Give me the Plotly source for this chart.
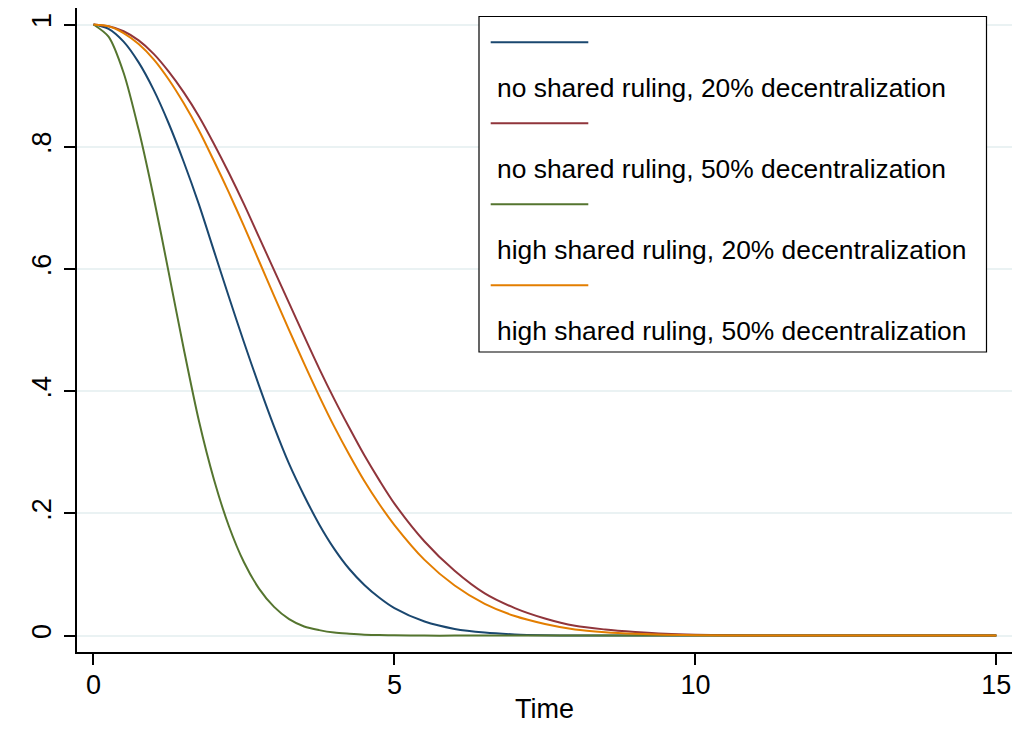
import plotly.graph_objects as go

# ---- data ----
time = [0, 0.25, 0.5, 0.75, 1, 1.25, 1.5, 1.75, 2, 2.25, 2.5, 2.75, 3, 3.25, 3.5, 3.75,
        4, 4.25, 4.5, 4.75, 5, 5.5, 6, 6.5, 7, 7.5, 8, 8.5, 9, 9.5, 10, 11, 12, 13, 14, 15]

no_shared_20 = [1, 0.993, 0.972, 0.938, 0.893, 0.838, 0.775, 0.706, 0.630, 0.554, 0.480, 0.409,
                0.342, 0.281, 0.229, 0.182, 0.142, 0.109, 0.083, 0.062, 0.045, 0.023, 0.011,
                0.005, 0.002, 0.0007, 0.0002, 0.0001, 0, 0, 0, 0, 0, 0, 0, 0]
no_shared_50 = [1, 0.997, 0.989, 0.974, 0.952, 0.923, 0.889, 0.850, 0.805, 0.757, 0.706, 0.652,
                0.598, 0.544, 0.490, 0.437, 0.387, 0.340, 0.295, 0.254, 0.216, 0.154, 0.106,
                0.069, 0.045, 0.028, 0.016, 0.010, 0.006, 0.003, 0.0015, 0.0004, 0.0001, 0, 0, 0]
high_shared_20 = [1, 0.98, 0.921, 0.828, 0.717, 0.594, 0.469, 0.352, 0.256, 0.179, 0.120, 0.077,
                  0.047, 0.027, 0.015, 0.009, 0.005, 0.003, 0.0015, 0.001, 0.0005, 0, 0, 0, 0,
                  0, 0, 0, 0, 0, 0, 0, 0, 0, 0, 0]
high_shared_50 = [1, 0.997, 0.986, 0.968, 0.943, 0.910, 0.871, 0.827, 0.777, 0.725, 0.670, 0.613,
                  0.556, 0.500, 0.445, 0.392, 0.342, 0.296, 0.253, 0.215, 0.181, 0.124, 0.082,
                  0.052, 0.032, 0.019, 0.010, 0.0056, 0.003, 0.0014, 0.0006, 0.0001, 0, 0, 0, 0]

series_names = ["no shared ruling, 20% decentralization",
                "no shared ruling, 50% decentralization",
                "high shared ruling, 20% decentralization",
                "high shared ruling, 50% decentralization"]
series_values = [no_shared_20, no_shared_50, high_shared_20, high_shared_50]
colors = ["#1a476f", "#90353b", "#55752f", "#e37e00"]

x_ticks = [0, 5, 10, 15]
x_ticktext = ["0", "5", "10", "15"]
y_ticks = [0, 0.2, 0.4, 0.6, 0.8, 1]
y_ticktext = ["0", ".2", ".4", ".6", ".8", "1"]

FONT = "Arial, 'Liberation Sans', sans-serif"
W, H = 1017, 731
ML, MR, MT, MB = 77, 5, 8, 79
PW, PH = W - ML - MR, H - MT - MB


def px_x(x):
    return (x - ML) / PW


def px_y(y):
    return (H - MB - y) / PH


fig = go.Figure()
for name, vals, col in zip(series_names, series_values, colors):
    fig.add_trace(go.Scatter(x=time, y=vals, mode="lines", name=name,
                             line=dict(color=col, width=2, shape="spline", smoothing=0.8),
                             showlegend=False, hoverinfo="skip"))

# ---- Stata-style legend: key line above each label ----
shapes = []
annotations = []
box = dict(x0=479, x1=986.5, y0=16.5, y1=352)
shapes.append(dict(type="rect", xref="paper", yref="paper", layer="above",
                   x0=px_x(box["x0"]), x1=px_x(box["x1"]),
                   y0=px_y(box["y1"]), y1=px_y(box["y0"]),
                   line=dict(color="black", width=1.2), fillcolor="white"))
key_y = [42.3, 123.3, 204.3, 285.3]
label_y = [87.5, 168.5, 249.5, 330.5]
for i, (name, col) in enumerate(zip(series_names, colors)):
    shapes.append(dict(type="line", xref="paper", yref="paper", layer="above",
                       x0=px_x(490.7), x1=px_x(588.3), y0=px_y(key_y[i]), y1=px_y(key_y[i]),
                       line=dict(color=col, width=2)))
    annotations.append(dict(xref="paper", yref="paper", x=px_x(495), y=px_y(label_y[i]),
                            xanchor="left", yanchor="middle", showarrow=False, text=name,
                            font=dict(family=FONT, size=26.4, color="black")))

fig.update_layout(
    width=W, height=H,
    margin=dict(l=ML, r=MR, t=MT, b=MB, autoexpand=False),
    paper_bgcolor="white", plot_bgcolor="white",
    font=dict(family=FONT, size=27, color="black"),
    shapes=shapes, annotations=annotations,
    xaxis=dict(range=[-0.274, 15.26], tickvals=x_ticks, ticktext=x_ticktext,
               showline=True, linecolor="black", linewidth=1.5,
               ticks="outside", ticklen=11, tickwidth=1.5, tickcolor="black",
               showgrid=False, zeroline=False, automargin=False,
               ticklabelstandoff=-3,
               tickfont=dict(size=27),
               title=dict(text="Time", font=dict(size=27), standoff=0)),
    yaxis=dict(range=[-0.0268, 1.027], tickvals=y_ticks, ticktext=y_ticktext,
               tickangle=-90, automargin=False, ticklabelstandoff=2,
               showline=True, linecolor="black", linewidth=1.5,
               ticks="outside", ticklen=11, tickwidth=1.5, tickcolor="black",
               showgrid=True, gridcolor="#eaf2f3", gridwidth=2, zeroline=False,
               tickfont=dict(size=27)),
)

fig.write_html("out.html",
               config={"displayModeBar": False},
               post_script="document.body.style.margin='0';document.body.style.overflow='hidden';")
